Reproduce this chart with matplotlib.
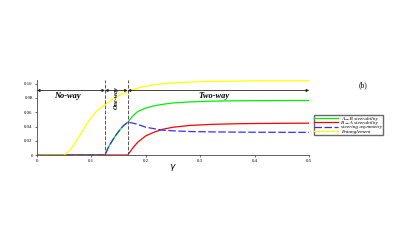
import matplotlib
matplotlib.use("Agg")
import matplotlib.pyplot as plt

# Data
x_ent = [0, 0.05, 0.06, 0.07, 0.08, 0.09, 0.10, 0.11, 0.125, 0.14, 0.155, 0.167,
         0.19, 0.22, 0.25, 0.30, 0.35, 0.40, 0.45, 0.50]
y_ent = [0, 0, 0.006, 0.017, 0.029, 0.042, 0.053, 0.062, 0.071, 0.079, 0.085, 0.089,
         0.095, 0.099, 0.101, 0.103, 0.1035, 0.104, 0.104, 0.104]

x_ab = [0, 0.125, 0.13, 0.135, 0.14, 0.145, 0.15, 0.155, 0.16, 0.167, 0.175, 0.185,
        0.20, 0.215, 0.23, 0.25, 0.28, 0.32, 0.36, 0.40, 0.45, 0.50]
y_ab = [0, 0, 0.009, 0.016, 0.022, 0.028, 0.033, 0.038, 0.042, 0.046, 0.054, 0.061,
        0.066, 0.069, 0.071, 0.073, 0.0745, 0.0755, 0.076, 0.0762, 0.0764, 0.0765]

x_ba = [0, 0.167, 0.175, 0.185, 0.20, 0.215, 0.23, 0.25, 0.28, 0.32, 0.36, 0.40, 0.45, 0.50]
y_ba = [0, 0, 0.009, 0.018, 0.027, 0.032, 0.036, 0.039, 0.0415, 0.043, 0.0438, 0.0442, 0.0445, 0.0447]

x_asym = x_ab
y_asym = [0, 0, 0.009, 0.016, 0.022, 0.028, 0.033, 0.038, 0.042, 0.046, 0.045, 0.043,
          0.039, 0.037, 0.035, 0.034, 0.033, 0.0325, 0.0322, 0.032, 0.0319, 0.0318]

region_edges = [0, 0.125, 0.1667, 0.5]
region_labels = ["No-way", "One-way", "Two-way"]
legend_labels = ["A→B steerability", "B→A steerability", "steering asymmetry", "Entanglement"]
xticks = [0, 0.1, 0.2, 0.3, 0.4, 0.5]
xticklabels = ["0", "0.1", "0.2", "0.3", "0.4", "0.5"]
yticks = [0, 0.02, 0.04, 0.06, 0.08, 0.10]
yticklabels = ["0", "0.02", "0.04", "0.06", "0.08", "0.10"]

plt.rcParams['font.family'] = ['Liberation Serif', 'DejaVu Serif']

fig = plt.figure(figsize=(4.15, 2.45), dpi=100)
ax = fig.add_axes([0.089, 0.367, 0.656, 0.306])

lw = 0.9
l1, = ax.plot(x_ab, y_ab, color='#00ee00', lw=lw, label=legend_labels[0])
l2, = ax.plot(x_ba, y_ba, color='#ff0000', lw=lw, label=legend_labels[1])
l3, = ax.plot(x_asym, y_asym, color='#3030ff', lw=lw, ls=(0, (6, 2)), label=legend_labels[2])
l4, = ax.plot(x_ent, y_ent, color='#ffff00', lw=lw, label=legend_labels[3])
ax.plot(x_ba[:2], y_ba[:2], color='#a00000', lw=lw)

for xe in region_edges[1:3]:
    ax.axvline(xe, color='#555555', ls='--', lw=0.7)

ya = 0.0905
for i in range(3):
    ax.annotate('', xy=(region_edges[i], ya), xytext=(region_edges[i + 1], ya),
                arrowprops=dict(arrowstyle='<|-|>', color='#222222', lw=0.6,
                                mutation_scale=4, shrinkA=0, shrinkB=0))
ax.text(0.0565, 0.0885, region_labels[0], ha='center', va='top', fontsize=6,
        style='italic', fontweight='bold')
ax.text(0.1465, 0.080, region_labels[1], ha='center', va='center', fontsize=4.5,
        style='italic', fontweight='bold', rotation=90)
ax.text(0.325, 0.0885, region_labels[2], ha='center', va='top', fontsize=6,
        style='italic', fontweight='bold')

ax.set_xlim(0, 0.5)
ax.set_ylim(0, 0.105)
ax.set_xticks(xticks)
ax.set_xticklabels(xticklabels)
ax.set_yticks(yticks)
ax.set_yticklabels(yticklabels)
ax.tick_params(labelsize=3.5, length=1.5, width=0.4, pad=1.5)
for s in ['top', 'right']:
    ax.spines[s].set_visible(False)
for s in ['left', 'bottom']:
    ax.spines[s].set_linewidth(0.6)
    ax.spines[s].set_color('#444444')

ax.set_xlabel(r'$\gamma$', fontsize=6.5, labelpad=-1, fontweight='bold')

fig.legend(handles=[l1, l2, l3, l4], loc='upper left', bbox_to_anchor=(0.752, 0.537),
           frameon=True, fancybox=False, edgecolor='#444444',
           handlelength=4.4, borderpad=0.15, labelspacing=-0.05, handletextpad=0.6,
           borderaxespad=0.3, prop={'style': 'italic', 'size': 3.8})
fig.text(0.875, 0.653, '(b)', fontsize=5.5, ha='center', va='center')

fig.savefig('out.png', dpi=100)
